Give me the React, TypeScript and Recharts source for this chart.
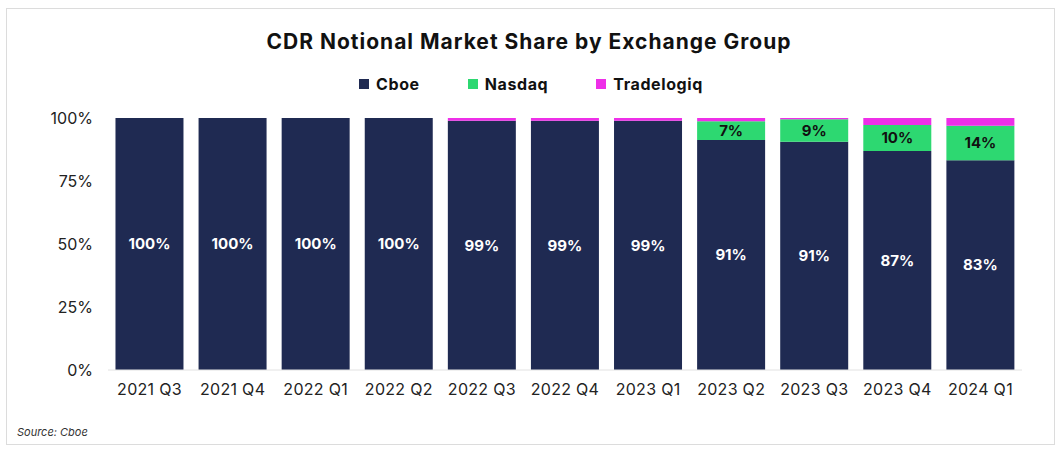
import React from 'react';
import { BarChart, Bar, XAxis, YAxis, LabelList } from 'recharts';

const categories = ['2021 Q3', '2021 Q4', '2022 Q1', '2022 Q2', '2022 Q3', '2022 Q4', '2023 Q1', '2023 Q2', '2023 Q3', '2023 Q4', '2024 Q1'];
const cboe = [100, 100, 100, 100, 98.9, 98.9, 98.9, 91.3, 90.6, 86.9, 83.2];
const nasdaq = [0, 0, 0, 0, 0, 0, 0, 7.4, 8.9, 10.3, 13.7];
const tradelogiq = [0, 0, 0, 0, 1.1, 1.1, 1.1, 1.3, 0.5, 2.8, 3.1];
const yTicks = [0, 25, 50, 75, 100];

const NAVY = '#1f2a52';
const GREEN = '#2dd871';
const MAGENTA = '#ee2fe8';
const FONT = 'Inter, "Open Sans", sans-serif';

const data = categories.map((c, i) => ({
  name: c,
  cboe: cboe[i],
  nasdaq: nasdaq[i],
  tradelogiq: tradelogiq[i],
}));

const fmt = (v: any) => (v ? `${Math.round(Number(v))}%` : '');

const legendItems = [
  { label: 'Cboe', color: NAVY },
  { label: 'Nasdaq', color: GREEN },
  { label: 'Tradelogiq', color: MAGENTA },
];

export default function App() {
  return (
    <div style={{ position: 'absolute', left: 0, top: 0, width: 1062, height: 454, background: '#fff', fontFamily: FONT }}>
      <div style={{ position: 'absolute', left: 6, top: 8, width: 1049, height: 437, border: '1px solid #dcdcdc', boxSizing: 'border-box' }} />
      <div style={{ position: 'absolute', left: 0, top: 29, width: 1062, textAlign: 'center', fontSize: 21, fontWeight: 700, letterSpacing: 1, color: '#111', transform: 'translateX(-2px)' }}>
        CDR Notional Market Share by Exchange Group
      </div>
      <div style={{ position: 'absolute', left: 0, top: 74, width: 1062, display: 'flex', justifyContent: 'center', gap: 48, transform: 'translateX(0px)' }}>
        {legendItems.map((it) => (
          <div key={it.label} style={{ display: 'flex', alignItems: 'center', gap: 7, fontSize: 16, fontWeight: 700, letterSpacing: 0.6, color: '#111' }}>
            <span style={{ width: 10, height: 10, background: it.color, display: 'inline-block' }} />
            <span>{it.label}</span>
          </div>
        ))}
      </div>
      <div style={{ position: 'absolute', left: 0, top: 0 }}>
        <BarChart
          width={1062}
          height={454}
          data={data}
          margin={{ top: 118, right: 40, bottom: 54, left: 48 }}
          barCategoryGap="9%"
        >
          <XAxis
            dataKey="name"
            height={30}
            tickLine={false}
            tickSize={0}
            tickMargin={14}
            axisLine={{ stroke: '#e2e2e2' }}
            tick={{ fill: '#222', fontSize: 16, fontFamily: FONT, letterSpacing: 0.3 }}
            interval={0}
          />
          <YAxis
            width={60}
            domain={[0, 100]}
            ticks={yTicks}
            tickFormatter={(v: number) => `${v}%`}
            axisLine={false}
            tickLine={false}
            tickSize={0}
            tickMargin={15}
            tick={{ fill: '#222', fontSize: 16, fontFamily: FONT }}
          />
          <Bar dataKey="cboe" stackId="a" fill={NAVY} isAnimationActive={false}>
            <LabelList dataKey="cboe" position="center" formatter={fmt} fill="#fff" style={{ fontSize: 15, fontWeight: 700, fontFamily: FONT }} />
          </Bar>
          <Bar dataKey="nasdaq" stackId="a" fill={GREEN} isAnimationActive={false}>
            <LabelList dataKey="nasdaq" position="center" formatter={fmt} fill="#111" style={{ fontSize: 15, fontWeight: 700, fontFamily: FONT }} />
          </Bar>
          <Bar dataKey="tradelogiq" stackId="a" fill={MAGENTA} isAnimationActive={false} />
        </BarChart>
      </div>
      <div style={{ position: 'absolute', left: 17, top: 425, fontSize: 11, fontStyle: 'italic', color: '#333' }}>
        Source: Cboe
      </div>
    </div>
  );
}
